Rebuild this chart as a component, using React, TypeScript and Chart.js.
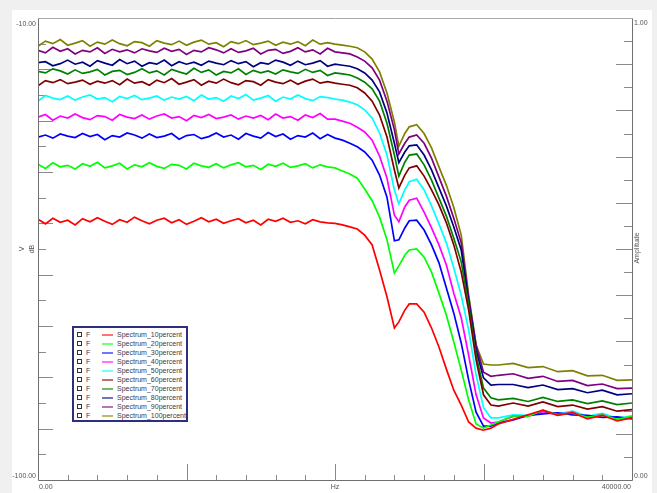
import React, { useEffect, useRef } from 'react';
import { Chart, registerables } from 'chart.js';

Chart.register(...registerables);

// Frequency axis (Hz)
const freqs = [
  0, 500, 1000, 1500, 2000, 2500, 3000, 3500, 4000, 4500, 5000, 5500, 6000, 6500, 7000, 7500, 8000, 8500, 9000, 9500,
  10000, 10500, 11000, 11500, 12000, 12500, 13000, 13500, 14000, 14500, 15000, 15500, 16000, 16500, 17000, 17500, 18000, 18500, 19000, 19500,
  20000, 20500, 21000, 21500, 22000, 22500, 23000, 23500, 24000, 24300, 24700,
  25000, 25500, 26000, 26500, 27000, 27500, 28000, 28500, 29000, 29500, 30000, 30500, 31000,
  32000, 33000, 34000, 35000, 36000, 37000, 38000, 39000, 40000,
];

const seriesNames = [
  'Spectrum_10percent', 'Spectrum_20percent', 'Spectrum_30percent', 'Spectrum_40percent', 'Spectrum_50percent',
  'Spectrum_60percent', 'Spectrum_70percent', 'Spectrum_80percent', 'Spectrum_90percent', 'Spectrum_100percent',
];

const seriesColors = [
  '#ff0000', '#00ff00', '#0000ff', '#ff00ff', '#00ffff',
  '#800000', '#008000', '#000080', '#800080', '#808000',
];

// values in dB
const s10 = [
  -49.2, -50.1, -49.0, -49.8, -49.4, -50.3, -49.1, -49.7, -48.9, -49.6, -50.2, -49.3, -49.8, -48.8, -49.5, -50.1, -49.4, -49.0, -49.9, -49.3,
  -50.2, -49.6, -48.9, -49.7, -49.2, -50.0, -49.5, -49.1, -49.9, -49.4, -50.3, -49.2, -49.6, -49.0, -49.8, -49.5, -50.1, -49.3, -49.7, -49.9,
  -50.0, -50.3, -50.7, -51.1, -52.3, -54.2, -59.1, -64.3, -70.4, -69.2, -66.9,
  -65.7, -65.7, -67.3, -70.4, -74.1, -78.4, -82.5, -85.4, -88.7, -89.9, -90.3, -89.9, -89.1,
  -88.2, -87.3, -86.4, -87.4, -86.9, -88.1, -87.4, -88.5, -87.9,
];
const s20 = [
  -38.5, -39.3, -38.2, -39.0, -38.7, -39.4, -38.4, -38.9, -38.1, -39.2, -38.8, -38.3, -39.4, -38.6, -39.0, -38.2, -38.9, -39.3, -38.5, -38.7,
  -39.4, -38.3, -38.8, -39.1, -38.4, -39.2, -38.6, -38.2, -39.0, -38.7, -39.5, -38.5, -38.9, -38.3, -39.1, -38.8, -38.4, -39.2, -38.6, -39.0,
  -39.2, -39.8, -40.4, -41.2, -43.3, -45.6, -48.8, -53.2, -59.7, -58.3, -56.2,
  -55.2, -55.0, -56.6, -59.5, -63.6, -67.9, -73.1, -78.6, -84.4, -89.1, -89.9, -89.3, -88.7,
  -87.5, -87.6, -86.4, -87.3, -86.9, -87.8, -87.3, -88.2, -87.6,
];
const s30 = [
  -33.2, -32.8, -33.4, -32.6, -33.0, -33.3, -32.5, -33.1, -32.7, -33.7, -32.9, -33.2, -32.4, -32.8, -33.4, -32.6, -33.3, -33.0, -32.5, -33.6,
  -32.9, -32.7, -33.5, -33.1, -32.4, -33.2, -32.8, -33.6, -32.5, -33.0, -33.4, -32.3, -33.1, -32.6, -33.6, -32.9, -33.2, -32.4, -33.5, -32.7,
  -33.4, -33.8, -34.4, -35.1, -36.1, -37.7, -40.6, -44.9, -53.4, -53.2, -50.9,
  -49.5, -49.4, -51.3, -54.2, -57.7, -62.6, -67.5, -73.3, -80.5, -86.8, -89.5, -89.5, -88.9,
  -88.3, -87.4, -87.1, -86.9, -87.3, -87.4, -87.8, -87.7, -88.1,
];
const s40 = [
  -29.3, -28.8, -29.9, -29.1, -29.5, -28.7, -29.4, -29.8, -29.0, -29.2, -29.9, -28.8, -29.3, -29.6, -28.9, -29.7, -29.1, -28.7, -29.5, -29.2,
  -30.0, -29.0, -29.4, -28.8, -29.6, -29.3, -28.9, -29.7, -29.1, -29.5, -29.0, -29.8, -28.7, -29.5, -29.2, -29.9, -28.9, -29.4, -28.6, -29.7,
  -29.7, -30.1, -30.5, -31.3, -32.2, -33.8, -36.9, -41.2, -48.4, -49.7, -46.8,
  -45.5, -45.1, -47.8, -50.9, -54.2, -58.1, -63.6, -68.4, -75.7, -83.4, -87.9, -88.9, -88.7,
  -87.6, -87.6, -86.7, -87.3, -86.8, -87.9, -87.2, -88.4, -87.8,
];
const s50 = [
  -26.2, -25.1, -25.6, -25.9, -25.2, -26.0, -25.4, -25.0, -25.8, -25.5, -26.3, -25.3, -25.7, -25.1, -25.9, -25.6, -25.2, -26.0, -25.4, -25.8,
  -25.3, -26.1, -25.0, -25.8, -25.5, -26.2, -25.2, -25.7, -24.9, -26.0, -25.6, -25.1, -26.2, -25.4, -25.8, -25.0, -25.7, -26.1, -25.3, -25.5,
  -25.8, -26.0, -26.4, -26.9, -27.9, -29.5, -32.4, -36.7, -43.5, -46.2, -43.5,
  -41.9, -41.4, -43.5, -46.6, -50.1, -53.8, -58.7, -64.0, -70.8, -79.5, -85.9, -87.9, -87.9,
  -87.3, -87.4, -86.5, -87.1, -86.6, -87.6, -87.0, -88.0, -87.5,
];
const s60 = [
  -23.2, -22.2, -22.6, -22.0, -22.8, -22.5, -22.1, -22.9, -22.3, -22.7, -22.2, -23.0, -21.9, -22.7, -22.4, -23.1, -22.1, -22.6, -21.8, -22.9,
  -22.5, -22.0, -23.1, -22.3, -22.7, -21.9, -22.6, -23.0, -22.2, -22.4, -23.1, -22.0, -22.5, -22.8, -22.1, -22.9, -22.3, -21.9, -22.7, -22.4,
  -22.7, -22.9, -23.1, -23.6, -24.6, -26.2, -28.9, -33.2, -39.6, -43.1, -40.6,
  -39.2, -38.8, -40.8, -43.5, -46.4, -49.9, -54.2, -59.5, -66.9, -76.6, -83.4, -85.4, -85.6,
  -85.0, -85.6, -84.8, -85.7, -85.4, -86.2, -85.7, -86.6, -86.3,
];
const s70 = [
  -20.4, -20.7, -19.9, -20.3, -20.9, -20.1, -20.8, -20.5, -20.0, -21.1, -20.4, -20.2, -21.0, -20.6, -19.9, -20.7, -20.3, -21.1, -20.0, -20.5,
  -20.9, -19.8, -20.6, -20.1, -21.1, -20.4, -20.7, -19.9, -21.0, -20.2, -20.7, -20.3, -20.9, -20.1, -20.5, -20.8, -20.0, -20.6, -20.2, -21.2,
  -20.7, -20.9, -21.1, -21.7, -22.5, -23.8, -26.2, -30.5, -36.7, -40.8, -38.1,
  -36.7, -36.5, -38.6, -41.6, -45.1, -48.6, -52.9, -57.5, -65.9, -75.7, -82.1, -84.0, -84.4,
  -84.1, -84.7, -83.9, -84.7, -84.4, -85.1, -84.6, -85.3, -85.0,
];
const s80 = [
  -18.7, -18.5, -19.3, -18.9, -18.2, -19.0, -18.6, -19.4, -18.3, -18.8, -19.2, -18.1, -18.9, -18.4, -19.4, -18.7, -19.0, -18.2, -19.3, -18.5,
  -19.0, -18.6, -19.2, -18.4, -18.8, -19.1, -18.3, -18.9, -18.5, -19.5, -18.7, -19.0, -18.2, -18.6, -19.2, -18.4, -19.1, -18.8, -18.3, -19.4,
  -19.0, -19.2, -19.4, -19.9, -20.7, -22.1, -24.4, -28.5, -34.4, -38.2, -36.1,
  -34.9, -34.7, -36.7, -39.6, -43.1, -46.6, -50.7, -55.2, -65.3, -74.7, -80.1, -81.5, -81.4,
  -81.4, -82.0, -81.5, -82.4, -82.2, -83.0, -82.5, -83.4, -83.2,
];
const s90 = [
  -16.3, -16.8, -15.7, -16.5, -16.0, -17.0, -16.3, -16.6, -15.8, -16.9, -16.1, -16.6, -16.2, -16.8, -16.0, -16.4, -16.7, -15.9, -16.5, -16.1,
  -17.1, -16.3, -16.6, -15.8, -16.2, -16.8, -16.0, -16.7, -16.4, -15.9, -17.0, -16.3, -16.1, -16.9, -16.5, -15.8, -16.6, -16.2, -17.0, -15.9,
  -16.6, -16.8, -17.0, -17.6, -18.4, -19.7, -22.1, -26.2, -31.8, -36.5, -34.4,
  -33.2, -32.8, -34.4, -37.3, -41.0, -44.7, -49.0, -53.8, -64.5, -73.7, -79.0, -79.8, -79.6,
  -79.3, -80.2, -79.8, -80.8, -80.6, -81.6, -81.3, -82.2, -82.1,
];
const s100 = [
  -15.5, -14.5, -15.0, -14.2, -15.3, -14.9, -14.4, -15.5, -14.7, -15.1, -14.3, -15.0, -15.4, -14.6, -14.8, -15.5, -14.4, -14.9, -15.2, -14.5,
  -15.3, -14.7, -14.3, -15.1, -14.8, -15.6, -14.6, -15.0, -14.4, -15.2, -14.9, -14.5, -15.3, -14.7, -15.1, -14.6, -15.4, -14.3, -15.1, -14.8,
  -15.1, -15.3, -15.5, -15.8, -16.6, -18.0, -20.5, -24.6, -30.3, -35.0, -32.5,
  -31.2, -30.8, -32.5, -35.3, -39.0, -42.6, -46.9, -52.3, -64.0, -73.7, -77.4, -77.6, -77.6,
  -77.3, -78.1, -77.9, -78.9, -78.7, -79.7, -79.6, -80.6, -80.5,
];

const seriesValues = [s10, s20, s30, s40, s50, s60, s70, s80, s90, s100];

// axis tick marks / labels
const leftTickValues = [-15, -20, -25, -30, -35, -40, -45, -50, -55, -60, -65, -70, -75, -80, -85, -90, -95];
const rightTickValues = [0.05, 0.1, 0.15, 0.2, 0.25, 0.3, 0.35, 0.4, 0.45, 0.5, 0.55, 0.6, 0.65, 0.7, 0.75, 0.8, 0.85, 0.9, 0.95];
const bottomTickValues = [2000, 4000, 6000, 8000, 10000, 12000, 14000, 16000, 18000, 20000, 22000, 24000, 26000, 28000, 30000, 32000, 34000, 36000, 38000];
const leftLabels = ['-10.00', '-100.00'];
const rightLabels = ['1.00', '0.00'];
const bottomLabels = ['0.00', '40000.00'];
const xTitle = 'Hz';
const yTitle = ['V', 'dB'];
const y2Title = 'Amplitude';

const FONT = '7px "Liberation Sans", Arial, sans-serif';
const TEXT = '#555555';

const decor = {
  id: 'decor',
  beforeDatasetsDraw(chart: any) {
    const { ctx, chartArea: a } = chart;
    const { x, y, y2 } = chart.scales;
    ctx.save();
    ctx.strokeStyle = '#8a8a8a';
    ctx.lineWidth = 1;
    ctx.beginPath();
    leftTickValues.forEach((v) => {
      const py = Math.round(y.getPixelForValue(v)) + 0.5;
      const len = v % 10 === 0 ? 15 : 8;
      ctx.moveTo(a.left, py);
      ctx.lineTo(a.left + len, py);
    });
    rightTickValues.forEach((v) => {
      const py = Math.round(y2.getPixelForValue(v)) + 0.5;
      const len = Math.round(v * 100) % 10 === 0 ? 16 : 8;
      ctx.moveTo(a.right, py);
      ctx.lineTo(a.right - len, py);
    });
    bottomTickValues.forEach((v) => {
      const px = Math.round(x.getPixelForValue(v)) + 0.5;
      const len = v % 10000 === 0 ? 16 : 5;
      ctx.moveTo(px, a.bottom);
      ctx.lineTo(px, a.bottom - len);
    });
    ctx.stroke();
    ctx.restore();
  },
  afterDatasetsDraw(chart: any) {
    const { ctx, chartArea: a } = chart;
    const L = Math.round(a.left) + 0.5;
    const R = Math.round(a.right) + 0.5;
    const T = Math.round(a.top) + 0.5;
    const B = Math.round(a.bottom) + 0.5;
    ctx.save();
    ctx.lineWidth = 1;
    ctx.strokeStyle = '#a8a8a8';
    ctx.beginPath();
    ctx.moveTo(L, T);
    ctx.lineTo(R, T);
    ctx.stroke();
    ctx.strokeStyle = '#707070';
    ctx.beginPath();
    ctx.moveTo(L, T);
    ctx.lineTo(L, B);
    ctx.lineTo(R, B);
    ctx.moveTo(R, T);
    ctx.lineTo(R, B);
    ctx.stroke();

    ctx.font = FONT;
    ctx.fillStyle = TEXT;
    ctx.textAlign = 'right';
    ctx.textBaseline = 'middle';
    ctx.fillText(leftLabels[0], a.left - 2, a.top + 6);
    ctx.fillText(leftLabels[1], a.left - 2, a.bottom - 4);
    ctx.textAlign = 'left';
    ctx.fillText(rightLabels[0], a.right + 2, a.top + 5);
    ctx.fillText(rightLabels[1], a.right + 2, a.bottom - 4);
    const by = a.bottom + 7;
    ctx.textAlign = 'left';
    ctx.fillText(bottomLabels[0], a.left + 1, by);
    ctx.textAlign = 'right';
    ctx.fillText(bottomLabels[1], a.right - 1, by);
    ctx.textAlign = 'center';
    ctx.fillText(xTitle, (a.left + a.right) / 2, by);
    const midY = (a.top + a.bottom) / 2;
    yTitle.forEach((t, i) => {
      ctx.save();
      ctx.translate(a.left - 15.5 + i * 10, midY);
      ctx.rotate(-Math.PI / 2);
      ctx.textAlign = 'center';
      ctx.textBaseline = 'middle';
      ctx.fillText(t, 0, 0);
      ctx.restore();
    });
    ctx.save();
    ctx.translate(a.right + 5.5, midY - 1);
    ctx.rotate(-Math.PI / 2);
    ctx.textAlign = 'center';
    ctx.textBaseline = 'middle';
    ctx.fillText(y2Title, 0, 0);
    ctx.restore();
    ctx.restore();
  },
};

export default function App() {
  const ref = useRef<HTMLCanvasElement>(null);
  useEffect(() => {
    if (!ref.current) return;
    const chart = new Chart(ref.current, {
      type: 'line',
      data: {
        datasets: seriesValues.map((vals, i) => ({
          label: seriesNames[i],
          data: freqs.map((f, j) => ({ x: f, y: vals[j] })),
          borderColor: seriesColors[i],
          backgroundColor: seriesColors[i],
          borderWidth: 1.7,
          pointRadius: 0,
          tension: 0,
          fill: false,
        })),
      },
      options: {
        animation: false,
        responsive: false,
        events: [],
        layout: { padding: { left: 26, right: 20, top: 8, bottom: 13 } },
        plugins: { legend: { display: false }, tooltip: { enabled: false } },
        scales: {
          x: { type: 'linear', min: 0, max: 40000, display: false },
          y: { type: 'linear', min: -100, max: -10, display: false },
          y2: { type: 'linear', min: 0, max: 1, display: false, position: 'right' },
        },
      },
      plugins: [decor],
    } as any);
    return () => chart.destroy();
  }, []);

  return (
    <div style={{ position: 'fixed', left: 0, top: 0, width: 657, height: 493, background: '#f0f0f0', overflow: 'hidden' }}>
      <div style={{ position: 'absolute', left: 12, top: 10, width: 640, height: 483, background: '#ffffff' }}>
        <canvas ref={ref} width={640} height={483} style={{ display: 'block', width: 640, height: 483 }} />
        <div
          style={{
            position: 'absolute', left: 60, top: 316, width: 116, height: 96, boxSizing: 'border-box',
            border: '2px solid #2e2e80', background: '#ffffff', paddingTop: 2,
            fontFamily: '"Liberation Sans", Arial, sans-serif', fontSize: 7, color: '#3a3a4a',
          }}
        >
          {seriesNames.map((name, i) => (
            <div key={name} style={{ position: 'relative', height: 9 }}>
              <span style={{ position: 'absolute', left: 3, top: 2, width: 5, height: 5, boxSizing: 'border-box', border: '1px solid #333' }} />
              <span style={{ position: 'absolute', left: 12, top: 0, lineHeight: '9px' }}>F</span>
              <span style={{ position: 'absolute', left: 28, top: 4, width: 11, height: 2, background: seriesColors[i], opacity: 0.55 }} />
              <span style={{ position: 'absolute', left: 43, top: 0, lineHeight: '9px', whiteSpace: 'nowrap' }}>{name}</span>
            </div>
          ))}
        </div>
      </div>
    </div>
  );
}
